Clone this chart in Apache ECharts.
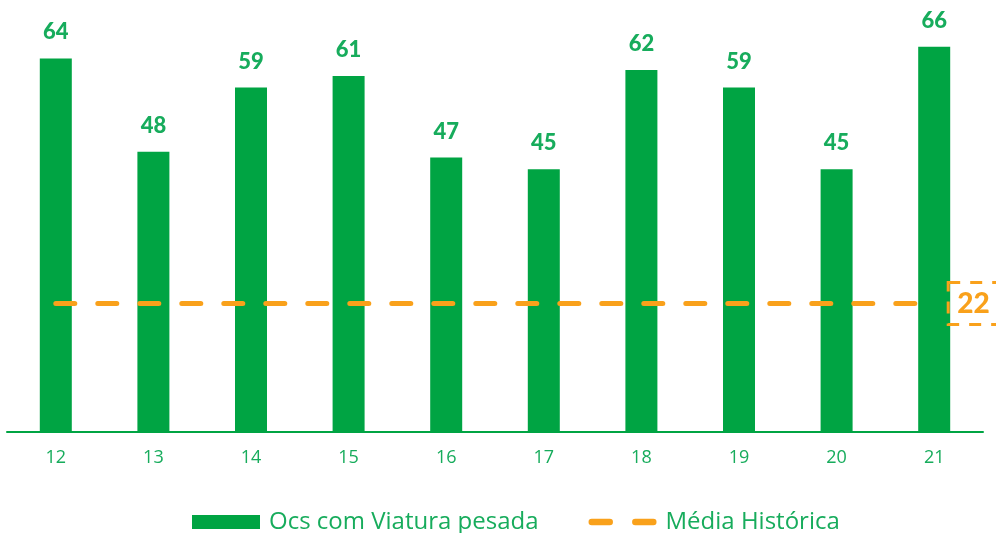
<!DOCTYPE html>
<html>
<head>
<meta charset="utf-8">
<title>Ocs com Viatura pesada</title>
<script src="https://cdn.jsdelivr.net/npm/echarts@6/dist/echarts.min.js"></script>
<style>
  html, body { margin: 0; padding: 0; background: #fff; }
  #chart { width: 996px; height: 533px; }
</style>
</head>
<body>
<div id="chart"></div>
<script>
// dados
var categorias = ['12', '13', '14', '15', '16', '17', '18', '19', '20', '21'];
var ocsViatura = [64, 48, 59, 61, 47, 45, 62, 59, 45, 66];
var mediaHistorica = [22, 22, 22, 22, 22, 22, 22, 22, 22, 22];

var verde = '#00A443';
var verdeTexto = '#17AC5C';
var laranja = '#F9A11B';

// icone da legenda: dois tracos arredondados
var iconeTracejado = 'path://M3,0h17a3,3 0 0 1 0,6h-17a3,3 0 0 1 0,-6z' +
  'M44,0h17a3,3 0 0 1 0,6h-17a3,3 0 0 1 0,-6z';

var myChart = echarts.init(document.getElementById('chart'));

myChart.setOption({
  animation: false,
  grid: { left: 7, right: 13, top: 0, bottom: 101 },
  xAxis: {
    type: 'category',
    data: categorias,
    axisLine: { lineStyle: { color: verde, width: 2 } },
    axisTick: { show: false },
    axisLabel: { color: verdeTexto, fontFamily: 'Open Sans', fontSize: 18, margin: 17 }
  },
  yAxis: {
    type: 'value',
    min: 0,
    max: 74,
    show: false,
    splitLine: { show: false }
  },
  legend: {
    left: 192,
    top: 510,
    padding: 0,
    itemWidth: 68,
    itemHeight: 14,
    itemGap: 50,
    textStyle: { color: verdeTexto, fontFamily: 'Open Sans', fontSize: 24, padding: [0, 0, 0, 4] },
    data: [
      { name: 'Ocs com Viatura pesada', icon: 'rect' },
      { name: 'Média Histórica', icon: iconeTracejado, itemStyle: { color: laranja } }
    ]
  },
  series: [
    {
      name: 'Ocs com Viatura pesada',
      type: 'bar',
      data: ocsViatura,
      barWidth: 32,
      itemStyle: { color: verde },
      label: {
        show: true,
        position: 'top',
        distance: 15,
        color: verdeTexto,
        fontFamily: 'Lato',
        fontWeight: 900,
        fontSize: 22
      },
      z: 2
    },
    {
      name: 'Média Histórica',
      type: 'line',
      data: mediaHistorica,
      symbol: 'none',
      showSymbol: false,
      itemStyle: { color: laranja },
      lineStyle: { color: laranja, width: 5, type: [19, 23], cap: 'round' },
      endLabel: {
        show: true,
        distance: 14,
        formatter: '{c}',
        color: laranja,
        fontFamily: 'Lato',
        fontWeight: 900,
        fontSize: 28,
        padding: [8, 9, 6, 9],
        borderColor: laranja,
        borderWidth: 3,
        borderType: [12, 10]
      },
      z: 3
    }
  ]
});
</script>
</body>
</html>
